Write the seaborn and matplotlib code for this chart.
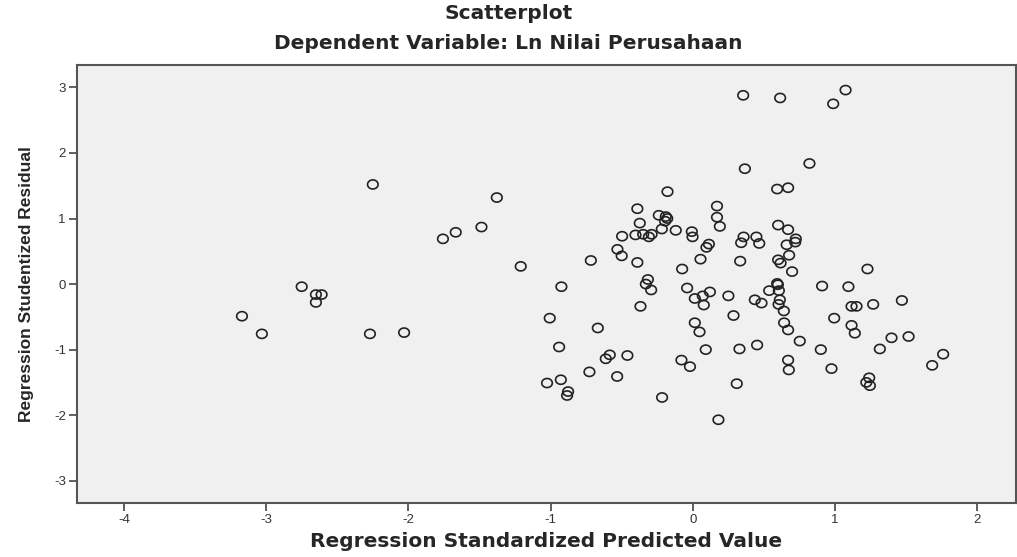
import numpy as np
import pandas as pd
import seaborn as sns
import matplotlib.pyplot as plt

# nilai (x = predicted value terstandar, y = studentized residual)
pred_x = [
    -3.17, -3.03, -2.75, -2.65, -2.61, -2.65, -2.27, -2.03, -2.25, -1.757,
    -1.667, -1.486, -1.378, -1.21, -1.006, -0.924, -0.94, -1.025, -0.928, -0.877,
    -0.884, -0.727, -0.717, -0.668, -0.584, -0.612, -0.46, -0.532, -0.216, -0.53,
    -0.50, -0.497, -0.403, -0.349, -0.309, -0.29, -0.39, -0.373, -0.178, -0.239,
    -0.19, -0.18, -0.195, -0.218, -0.12, -0.007, -0.002, -0.39, -0.075, -0.316,
    -0.33, -0.293, -0.368, -0.04, 0.014, 0.077, 0.07, 0.12, 0.014, 0.047,
    0.091, -0.08, -0.02, 0.18, 0.054, 0.096, 0.113, 0.17, 0.17, 0.19,
    0.25, 0.286, 0.328, 0.309, 0.452, 0.333, 0.354, 0.614, 1.074, 0.987,
    0.366, 0.82, 0.593, 0.67, 0.60, 0.67, 0.357, 0.447, 0.34, 0.467,
    0.724, 0.72, 0.66, 0.60, 0.617, 0.677, 0.698, 1.228, 0.909, 1.094,
    0.593, 0.598, 0.537, 0.605, 0.612, 0.603, 0.64, 0.436, 0.483, 1.116,
    1.151, 1.268, 1.47, 0.994, 0.642, 0.67, 1.116, 1.139, 0.752, 1.397,
    1.517, 1.315, 0.90, 0.67, 0.675, 0.975, 1.76, 1.683, 1.24, 1.22,
    1.245,
]
resid_y = [
    -0.49, -0.76, -0.04, -0.16, -0.16, -0.28, -0.76, -0.74, 1.52, 0.69,
    0.79, 0.87, 1.32, 0.27, -0.52, -0.04, -0.96, -1.51, -1.46, -1.64,
    -1.70, -1.34, 0.36, -0.67, -1.08, -1.14, -1.09, -1.41, -1.73, 0.53,
    0.43, 0.73, 0.75, 0.76, 0.72, 0.76, 1.15, 0.93, 1.41, 1.05,
    1.03, 1.00, 0.96, 0.84, 0.82, 0.80, 0.72, 0.33, 0.23, 0.07,
    0.0, -0.09, -0.34, -0.06, -0.22, -0.32, -0.18, -0.12, -0.59, -0.73,
    -1.0, -1.16, -1.26, -2.07, 0.38, 0.56, 0.61, 1.19, 1.02, 0.88,
    -0.18, -0.48, -0.99, -1.52, -0.93, 0.35, 2.88, 2.84, 2.96, 2.75,
    1.76, 1.84, 1.45, 1.47, 0.90, 0.83, 0.72, 0.72, 0.63, 0.62,
    0.69, 0.64, 0.60, 0.37, 0.32, 0.44, 0.19, 0.23, -0.03, -0.04,
    0.01, -0.01, -0.10, -0.10, -0.24, -0.31, -0.41, -0.24, -0.29, -0.34,
    -0.34, -0.31, -0.25, -0.52, -0.59, -0.70, -0.63, -0.75, -0.87, -0.82,
    -0.80, -0.99, -1.0, -1.16, -1.31, -1.29, -1.07, -1.24, -1.43, -1.50,
    -1.55,
]
x_ticks = [-4, -3, -2, -1, 0, 1, 2]
y_ticks = [-3, -2, -1, 0, 1, 2, 3]

df = pd.DataFrame({'pred': pred_x, 'resid': resid_y})

sns.set_style("white")
plt.rcParams['font.family'] = ['Liberation Sans', 'DejaVu Sans']
plt.rcParams['axes.unicode_minus'] = False

# lingkaran sedikit melebar (gambar asli agak tertarik ke samping)
t = np.linspace(0, 2 * np.pi, 40)
oval = list(zip(np.cos(t), 0.86 * np.sin(t)))

fig = plt.figure(figsize=(10.17, 5.57), dpi=100)
ax = fig.add_axes([0.0757, 0.097, 0.923, 0.786])
ax.set_facecolor('#f0f0f0')

sns.scatterplot(data=df, x='pred', y='resid', ax=ax, marker=oval, s=58,
                facecolors='none', edgecolor='#222222', linewidth=1.2)

ax.set_xlim(-4.33, 2.27)
ax.set_ylim(-3.34, 3.34)
ax.set_xticks(x_ticks)
ax.set_yticks(y_ticks)
ax.tick_params(axis='both', direction='out', length=6, width=1.2, color='#444444',
               labelsize=9.5, labelcolor='#333333', pad=2, bottom=True, left=True)
for side in ['left', 'bottom', 'top', 'right']:
    ax.spines[side].set_color('#555555')
    ax.spines[side].set_linewidth(1.5)

# teks horizontal lebih lebar, seperti di gambar asli
wide = ['DejaVu Sans']
ax.set_xlabel('Regression Standardized Predicted Value', fontsize=14.5,
              fontweight='bold', family=wide, labelpad=4)
ax.set_ylabel('Regression Studentized Residual', fontsize=12.5,
              fontweight='bold', labelpad=14)

fig.text(0.5, 0.975, 'Scatterplot', ha='center', va='center',
         fontsize=14.5, fontweight='bold', family=wide)
fig.text(0.5, 0.922, 'Dependent Variable: Ln Nilai Perusahaan', ha='center',
         va='center', fontsize=14.5, fontweight='bold', family=wide)

fig.savefig('out.png', dpi=100)
